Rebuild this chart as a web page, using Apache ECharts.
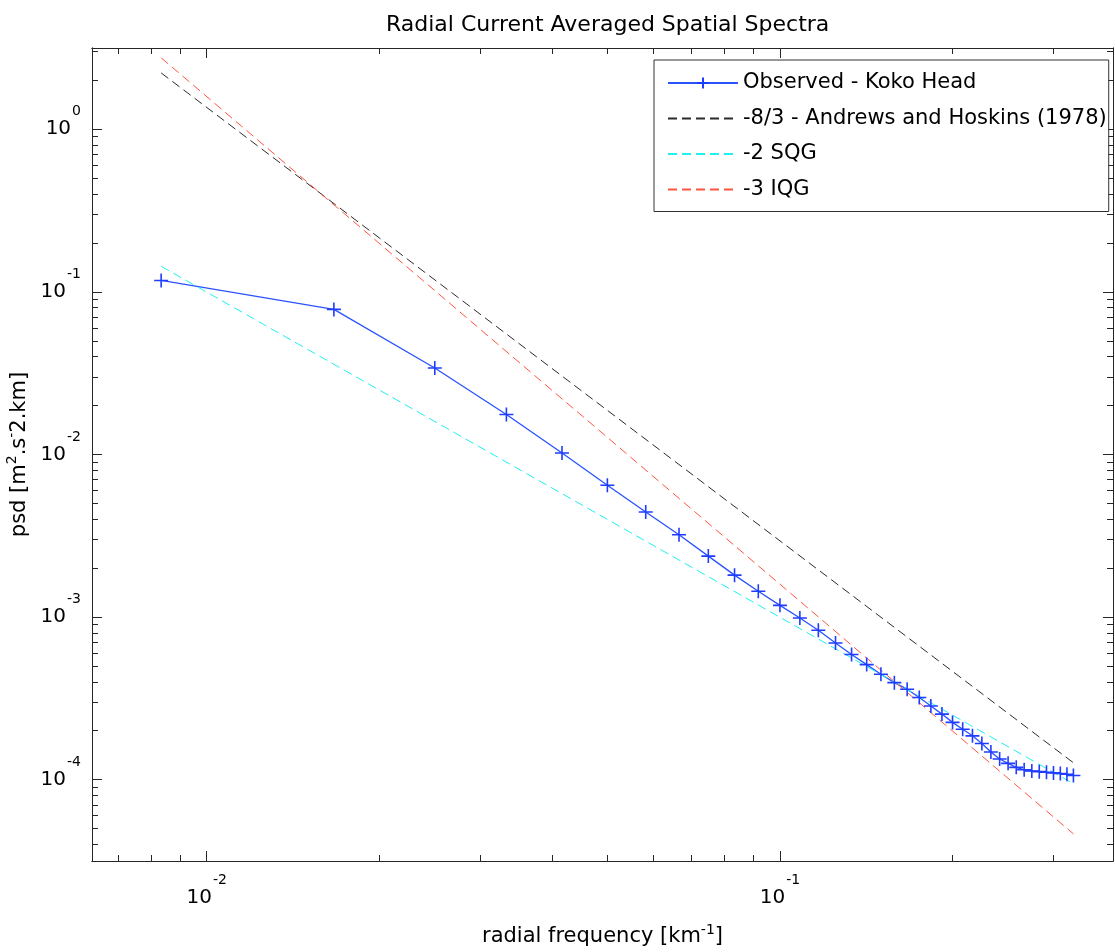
<!DOCTYPE html>
<html>
<head>
<meta charset="utf-8">
<title>Radial Current Averaged Spatial Spectra</title>
<script src="https://cdn.jsdelivr.net/npm/echarts@6/dist/echarts.min.js"></script>
<style>
  html, body { margin: 0; padding: 0; background: #fff; }
  #chart { width: 1115px; height: 952px; }
</style>
</head>
<body>
<div id="chart"></div>
<script>
// radial frequency [km^-1] of the observed spectrum
const freq = [
  0.00833, 0.01667, 0.025, 0.03333, 0.04167, 0.05, 0.05833, 0.06667, 0.075, 0.08333,
  0.09167, 0.1, 0.10833, 0.11667, 0.125, 0.13333, 0.14167, 0.15, 0.15833, 0.16667,
  0.175, 0.18333, 0.19167, 0.2, 0.20833, 0.21667, 0.225, 0.23333, 0.24167, 0.25,
  0.25833, 0.26667, 0.275, 0.28333, 0.29167, 0.3, 0.30833, 0.31667, 0.325
];
// Observed - Koko Head psd
const observed = [
  0.1175, 0.078, 0.034, 0.0176, 0.0102, 0.00646, 0.00443, 0.00321, 0.00237, 0.00181,
  0.00144, 0.00118, 0.000987, 0.00083, 0.000693, 0.000588, 0.00051, 0.000445, 0.000395, 0.00036,
  0.00032, 0.000284, 0.000253, 0.000225, 0.000204, 0.000186, 0.000167, 0.000148, 0.000134, 0.000126,
  0.000119, 0.000115, 0.000113, 0.000112, 0.000111, 0.00011, 0.000109, 0.000108, 0.000106
];

// reference slopes, end points
const slopeFreq = [0.00833, 0.325];
const andrewsHoskins = [2.22, 0.000127];
const sqg = [0.1436, 0.0000944];
const iqg = [2.75, 0.0000464];

const xMajorTicks = [0.01, 0.1];
const xMinorTicks = [0.007, 0.008, 0.009, 0.02, 0.03, 0.04, 0.05, 0.06, 0.07, 0.08, 0.09, 0.2, 0.3];
const yMajorTicks = [0.0001, 0.001, 0.01, 0.1, 1];
const yMinorTicks = [
  0.00004, 0.00005, 0.00006, 0.00007, 0.00008, 0.00009,
  0.0002, 0.0003, 0.0004, 0.0005, 0.0006, 0.0007, 0.0008, 0.0009,
  0.002, 0.003, 0.004, 0.005, 0.006, 0.007, 0.008, 0.009,
  0.02, 0.03, 0.04, 0.05, 0.06, 0.07, 0.08, 0.09,
  0.2, 0.3, 0.4, 0.5, 0.6, 0.7, 0.8, 0.9, 2, 3
];

const font = "DejaVu Sans";
const axisColor = "#262626";
const xRange = [0.00631, 0.381];
const yRange = [0.0000316, 3.16];

function pairs(xs, ys) {
  return xs.map((x, i) => [x, ys[i]]);
}

function powerLabel(v) {
  return "{b|10}{e|" + Math.round(Math.log10(v)) + "}";
}

const labelRich = {
  b: { fontFamily: font, fontSize: 20, color: "#000" },
  e: { fontFamily: font, fontSize: 14, color: "#000", padding: [0, 0, 35, 1] }
};

function makeAxis(range, position, ticks, len, labels) {
  return {
    type: "log",
    gridIndex: 0,
    position: position,
    min: range[0],
    max: range[1],
    axisLine: { show: true, lineStyle: { color: axisColor, width: 1 } },
    axisTick: {
      show: true,
      inside: true,
      length: len,
      customValues: ticks,
      lineStyle: { color: axisColor, width: 1 }
    },
    axisLabel: labels
      ? {
          show: true,
          customValues: ticks,
          formatter: powerLabel,
          rich: labelRich,
          margin: labels
        }
      : { show: false },
    splitLine: { show: false },
    minorTick: { show: false }
  };
}

const nameStyle = {
  fontFamily: font,
  fontSize: 21,
  color: "#000",
  rich: { s: { fontFamily: font, fontSize: 14, color: "#000", padding: [0, 0, 14, 0] } }
};

const chart = echarts.init(document.getElementById("chart"));

const xAxes = [
  makeAxis(xRange, "bottom", xMajorTicks, 10, 12),
  makeAxis(xRange, "bottom", xMinorTicks, 6, 0),
  makeAxis(xRange, "top", xMajorTicks, 10, 0),
  makeAxis(xRange, "top", xMinorTicks, 6, 0)
];
xAxes[0].name = "radial frequency [km{s|-1}]";
xAxes[0].nameLocation = "middle";
xAxes[0].nameGap = 62;
xAxes[0].nameTextStyle = nameStyle;

const yAxes = [
  makeAxis(yRange, "left", yMajorTicks, 10, 11),
  makeAxis(yRange, "left", yMinorTicks, 6, 0),
  makeAxis(yRange, "right", yMajorTicks, 10, 0),
  makeAxis(yRange, "right", yMinorTicks, 6, 0)
];
yAxes[0].name = "psd [m{s|2}.s{s|-}2.km]";
yAxes[0].nameLocation = "middle";
yAxes[0].nameGap = 58;
yAxes[0].nameTextStyle = nameStyle;

const option = {
  backgroundColor: "#fff",
  animation: false,
  title: {
    text: "Radial Current Averaged Spatial Spectra",
    left: 381,
    top: 9,
    textStyle: { fontFamily: font, fontSize: 22, fontWeight: "normal", color: "#000" }
  },
  grid: { left: 92, right: 2, top: 48, bottom: 91, containLabel: false, outerBoundsMode: "none" },
  legend: {
    orient: "vertical",
    left: 654,
    top: 60,
    padding: [11, 2, 10, 13],
    itemWidth: 70,
    itemHeight: 14,
    itemGap: 11.5,
    backgroundColor: "#fff",
    borderColor: "#333",
    borderWidth: 1,
    textStyle: { fontFamily: font, fontSize: 21, color: "#000", lineHeight: 24 },
    data: [
      "Observed - Koko Head",
      "-8/3 - Andrews and Hoskins (1978)",
      "-2 SQG",
      "-3 IQG"
    ]
  },
  xAxis: xAxes,
  yAxis: yAxes,
  series: [
    {
      name: "Observed - Koko Head",
      type: "line",
      data: pairs(freq, observed),
      symbol: "path://M5,0L5,10M0,5L10,5",
      symbolSize: 14,
      showAllSymbol: true,
      itemStyle: { color: "transparent", borderColor: "#1f3dff", borderWidth: 1.6 },
      lineStyle: { color: "#2a52ff", width: 1.3 },
      z: 3
    },
    {
      name: "-8/3 - Andrews and Hoskins (1978)",
      type: "line",
      data: pairs(slopeFreq, andrewsHoskins),
      symbol: "none",
      itemStyle: { color: "transparent" },
      lineStyle: { color: "#2b2b2b", width: 1, type: [9, 5] }
    },
    {
      name: "-2 SQG",
      type: "line",
      data: pairs(slopeFreq, sqg),
      symbol: "none",
      itemStyle: { color: "transparent" },
      lineStyle: { color: "#1ff0f0", width: 1, type: [9, 5] }
    },
    {
      name: "-3 IQG",
      type: "line",
      data: pairs(slopeFreq, iqg),
      symbol: "none",
      itemStyle: { color: "transparent" },
      lineStyle: { color: "#ff5540", width: 1, type: [9, 5] }
    }
  ]
};

chart.setOption(option);
</script>
</body>
</html>
